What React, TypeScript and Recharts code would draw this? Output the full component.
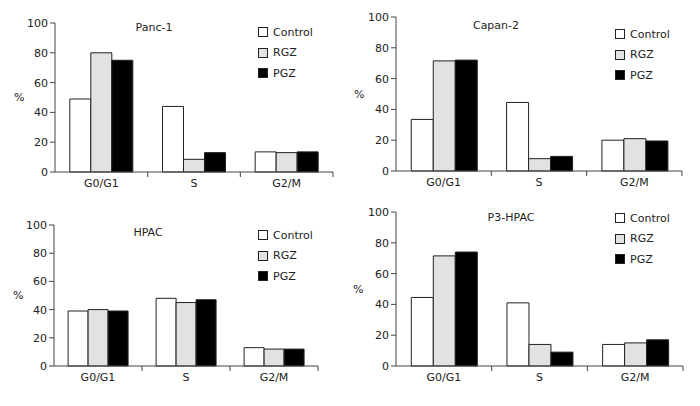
import { Bar, BarChart, Legend, XAxis, YAxis } from 'recharts';

const PHASES = ['G0/G1', 'S', 'G2/M'];
const Y_TICKS = [0, 20, 40, 60, 80, 100];

const panc1Control = [49, 44, 13.5];
const panc1Rgz = [80, 8.5, 13];
const panc1Pgz = [75, 13, 13.5];

const capan2Control = [33.5, 44.5, 20];
const capan2Rgz = [71.5, 8, 21];
const capan2Pgz = [72, 9.5, 19.5];

const hpacControl = [39, 48, 13];
const hpacRgz = [40, 45, 12];
const hpacPgz = [39, 47, 12];

const p3hpacControl = [44.5, 41, 14];
const p3hpacRgz = [71.5, 14, 15];
const p3hpacPgz = [74, 9, 17];

const SERIES = [
  { key: 'control', name: 'Control', fill: '#ffffff' },
  { key: 'rgz', name: 'RGZ', fill: '#e2e2e2' },
  { key: 'pgz', name: 'PGZ', fill: '#000000' },
];

const TEXT = '#222';
const AXIS = '#444';
const PANEL_W = 350;
const PANEL_H = 203;

function buildRows(control: number[], rgz: number[], pgz: number[]) {
  return PHASES.map((phase, i) => ({
    phase,
    control: control[i],
    rgz: rgz[i],
    pgz: pgz[i],
  }));
}

// plot box in panel-local pixels, plus where the title/legend sit
const PANELS = [
  {
    title: 'Panc-1',
    rows: buildRows(panc1Control, panc1Rgz, panc1Pgz),
    left: 0, top: 0,
    plot: { x0: 55, y0: 23, x1: 333, y1: 172 }, pct: 14,
    titleAt: [154, 27], legendAt: [258, 22],
  },
  {
    title: 'Capan-2',
    rows: buildRows(capan2Control, capan2Rgz, capan2Pgz),
    left: 350, top: 0,
    plot: { x0: 46, y0: 17, x1: 332, y1: 171 }, pct: 4,
    titleAt: [146, 25], legendAt: [265, 24],
  },
  {
    title: 'HPAC',
    rows: buildRows(hpacControl, hpacRgz, hpacPgz),
    left: 0, top: 203,
    plot: { x0: 54, y0: 22, x1: 318, y1: 163 }, pct: 13,
    titleAt: [148, 29], legendAt: [258, 22],
  },
  {
    title: 'P3-HPAC',
    rows: buildRows(p3hpacControl, p3hpacRgz, p3hpacPgz),
    left: 350, top: 203,
    plot: { x0: 46, y0: 9, x1: 333, y1: 163 }, pct: 3,
    titleAt: [161, 14], legendAt: [265, 5],
  },
];

function LegendBox() {
  return (
    <div style={{ fontSize: 11, color: TEXT }}>
      {SERIES.map((s) => (
        <div key={s.key} style={{ display: 'flex', alignItems: 'center', height: 20.5 }}>
          <span
            style={{
              width: 8,
              height: 8,
              background: s.fill,
              border: '1px solid #222',
              marginRight: 5,
            }}
          />
          {s.name}
        </div>
      ))}
    </div>
  );
}

function Panel({ panel }: { panel: (typeof PANELS)[number] }) {
  const { plot, pct } = panel;
  const yWidth = plot.x0 - pct;
  const xHeight = 22;
  const half = (plot.x1 - plot.x0) / PHASES.length / 2;

  const tick = (props: any) => {
    const { x, y, payload } = props;
    return (
      <g>
        <line x1={x + half} x2={x + half} y1={plot.y1} y2={plot.y1 + 5} stroke={AXIS} />
        <text x={x} y={y} dy="0.71em" textAnchor="middle" fill={TEXT} fontSize={11}>
          {payload.value}
        </text>
      </g>
    );
  };

  return (
    <div
      style={{
        position: 'absolute',
        left: panel.left,
        top: panel.top,
        width: PANEL_W,
        height: PANEL_H,
      }}
    >
      <BarChart
        width={PANEL_W}
        height={PANEL_H}
        data={panel.rows}
        margin={{
          top: plot.y0,
          left: pct,
          right: PANEL_W - plot.x1,
          bottom: PANEL_H - plot.y1 - xHeight,
        }}
        barCategoryGap="16%"
        barGap={0}
      >
        <XAxis
          dataKey="phase"
          height={xHeight}
          tickLine={false}
          tickSize={5}
          tickMargin={2}
          stroke={AXIS}
          tick={tick}
          interval={0}
        />
        <YAxis
          domain={[0, 100]}
          ticks={Y_TICKS}
          width={yWidth}
          tickSize={5}
          tickMargin={2}
          stroke={AXIS}
          tick={{ fill: TEXT, fontSize: 11 }}
          label={{ value: '%', position: 'insideLeft', offset: 0, fill: TEXT, fontSize: 11 }}
        />
        <Legend
          layout="vertical"
          align="center"
          verticalAlign="middle"
          content={() => <LegendBox />}
          wrapperStyle={{
            left: panel.legendAt[0],
            top: panel.legendAt[1],
            width: 80,
            height: 64,
          }}
        />
        {SERIES.map((s) => (
          <Bar
            key={s.key}
            dataKey={s.key}
            name={s.name}
            fill={s.fill}
            stroke="#222"
            strokeWidth={1}
            isAnimationActive={false}
          />
        ))}
      </BarChart>
      <div
        style={{
          position: 'absolute',
          left: panel.titleAt[0],
          top: panel.titleAt[1],
          transform: 'translate(-50%, -50%)',
          fontSize: 11,
          color: TEXT,
          whiteSpace: 'nowrap',
        }}
      >
        {panel.title}
      </div>
    </div>
  );
}

export default function App() {
  return (
    <div
      style={{
        position: 'absolute',
        left: 0,
        top: 0,
        width: 700,
        height: 406,
        background: '#fff',
        fontFamily: '"DejaVu Sans", Verdana, sans-serif',
      }}
    >
      {PANELS.map((p) => (
        <Panel key={p.title} panel={p} />
      ))}
    </div>
  );
}
